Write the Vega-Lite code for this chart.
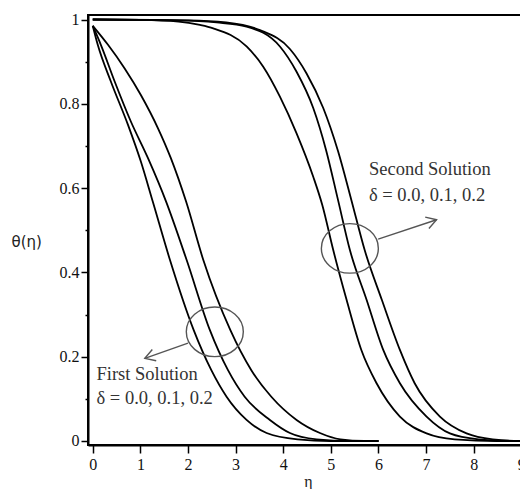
{
  "$schema": "https://vega.github.io/schema/vega-lite/v6.json",
  "autosize": "none",
  "padding": {"left": 88, "top": 15, "right": 0, "bottom": 44},
  "width": 440,
  "height": 430,
  "background": "white",
  "config": {
    "view": {"stroke": "black", "strokeWidth": 2},
    "axis": {
      "domainColor": "black",
      "domainWidth": 2,
      "tickColor": "black",
      "tickWidth": 1.5,
      "grid": false
    }
  },
  "datasets": {
    "curves": [
      {"curve": "F1", "eta": 0, "theta": 0.985},
      {"curve": "F1", "eta": 0.105, "theta": 0.94},
      {"curve": "F1", "eta": 0.38, "theta": 0.853},
      {"curve": "F1", "eta": 0.74, "theta": 0.75},
      {"curve": "F1", "eta": 1.01, "theta": 0.663},
      {"curve": "F1", "eta": 1.26, "theta": 0.568},
      {"curve": "F1", "eta": 1.62, "theta": 0.43},
      {"curve": "F1", "eta": 2.12, "theta": 0.263},
      {"curve": "F1", "eta": 2.49, "theta": 0.168},
      {"curve": "F1", "eta": 2.81, "theta": 0.105},
      {"curve": "F1", "eta": 3.23, "theta": 0.05},
      {"curve": "F1", "eta": 3.65, "theta": 0.019},
      {"curve": "F1", "eta": 4.3, "theta": 0.004},
      {"curve": "F1", "eta": 5.0, "theta": 0},
      {"curve": "F1", "eta": 6.0, "theta": 0},
      {"curve": "F2", "eta": 0, "theta": 0.985},
      {"curve": "F2", "eta": 0.17, "theta": 0.94},
      {"curve": "F2", "eta": 0.46, "theta": 0.853},
      {"curve": "F2", "eta": 0.8, "theta": 0.758},
      {"curve": "F2", "eta": 1.16, "theta": 0.671},
      {"curve": "F2", "eta": 1.54, "theta": 0.568},
      {"curve": "F2", "eta": 1.97, "theta": 0.43},
      {"curve": "F2", "eta": 2.46, "theta": 0.263},
      {"curve": "F2", "eta": 2.84, "theta": 0.168},
      {"curve": "F2", "eta": 3.19, "theta": 0.105},
      {"curve": "F2", "eta": 3.72, "theta": 0.05},
      {"curve": "F2", "eta": 4.14, "theta": 0.019},
      {"curve": "F2", "eta": 4.7, "theta": 0.004},
      {"curve": "F2", "eta": 5.4, "theta": 0},
      {"curve": "F2", "eta": 6.0, "theta": 0},
      {"curve": "F3", "eta": 0, "theta": 0.985},
      {"curve": "F3", "eta": 0.32, "theta": 0.94},
      {"curve": "F3", "eta": 0.67, "theta": 0.884},
      {"curve": "F3", "eta": 1.01, "theta": 0.821},
      {"curve": "F3", "eta": 1.37, "theta": 0.742},
      {"curve": "F3", "eta": 1.64, "theta": 0.671},
      {"curve": "F3", "eta": 1.96, "theta": 0.568},
      {"curve": "F3", "eta": 2.32, "theta": 0.43},
      {"curve": "F3", "eta": 2.89, "theta": 0.263},
      {"curve": "F3", "eta": 3.33, "theta": 0.168},
      {"curve": "F3", "eta": 3.75, "theta": 0.105},
      {"curve": "F3", "eta": 4.28, "theta": 0.05},
      {"curve": "F3", "eta": 4.77, "theta": 0.019},
      {"curve": "F3", "eta": 5.2, "theta": 0.004},
      {"curve": "F3", "eta": 5.7, "theta": 0},
      {"curve": "F3", "eta": 6.0, "theta": 0},
      {"curve": "S1", "eta": 0, "theta": 1},
      {"curve": "S1", "eta": 1.0, "theta": 0.999},
      {"curve": "S1", "eta": 1.8, "theta": 0.995},
      {"curve": "S1", "eta": 2.25, "theta": 0.987},
      {"curve": "S1", "eta": 2.53, "theta": 0.979},
      {"curve": "S1", "eta": 3.23, "theta": 0.936},
      {"curve": "S1", "eta": 3.58, "theta": 0.888},
      {"curve": "S1", "eta": 3.93, "theta": 0.817},
      {"curve": "S1", "eta": 4.28, "theta": 0.73},
      {"curve": "S1", "eta": 4.63, "theta": 0.627},
      {"curve": "S1", "eta": 4.82, "theta": 0.56},
      {"curve": "S1", "eta": 5.05, "theta": 0.453},
      {"curve": "S1", "eta": 5.33, "theta": 0.335},
      {"curve": "S1", "eta": 5.64, "theta": 0.216},
      {"curve": "S1", "eta": 5.96, "theta": 0.137},
      {"curve": "S1", "eta": 6.45, "theta": 0.058},
      {"curve": "S1", "eta": 7.01, "theta": 0.018},
      {"curve": "S1", "eta": 7.6, "theta": 0.004},
      {"curve": "S1", "eta": 8.5, "theta": 0},
      {"curve": "S1", "eta": 9.2, "theta": 0},
      {"curve": "S2", "eta": 0, "theta": 1},
      {"curve": "S2", "eta": 1.8, "theta": 0.998},
      {"curve": "S2", "eta": 2.6, "theta": 0.993},
      {"curve": "S2", "eta": 3.23, "theta": 0.983},
      {"curve": "S2", "eta": 3.93, "theta": 0.936},
      {"curve": "S2", "eta": 4.28, "theta": 0.876},
      {"curve": "S2", "eta": 4.63, "theta": 0.79},
      {"curve": "S2", "eta": 4.9, "theta": 0.69},
      {"curve": "S2", "eta": 5.15, "theta": 0.572},
      {"curve": "S2", "eta": 5.4, "theta": 0.453},
      {"curve": "S2", "eta": 5.75, "theta": 0.335},
      {"curve": "S2", "eta": 6.1, "theta": 0.216},
      {"curve": "S2", "eta": 6.45, "theta": 0.137},
      {"curve": "S2", "eta": 7.01, "theta": 0.058},
      {"curve": "S2", "eta": 7.5, "theta": 0.018},
      {"curve": "S2", "eta": 8.1, "theta": 0.004},
      {"curve": "S2", "eta": 8.8, "theta": 0},
      {"curve": "S2", "eta": 9.2, "theta": 0},
      {"curve": "S3", "eta": 0, "theta": 1},
      {"curve": "S3", "eta": 2.0, "theta": 0.998},
      {"curve": "S3", "eta": 2.8, "theta": 0.993},
      {"curve": "S3", "eta": 3.51, "theta": 0.975},
      {"curve": "S3", "eta": 4.14, "theta": 0.93},
      {"curve": "S3", "eta": 4.49, "theta": 0.872},
      {"curve": "S3", "eta": 4.84, "theta": 0.79},
      {"curve": "S3", "eta": 5.15, "theta": 0.688},
      {"curve": "S3", "eta": 5.43, "theta": 0.572},
      {"curve": "S3", "eta": 5.71, "theta": 0.453},
      {"curve": "S3", "eta": 6.07, "theta": 0.335},
      {"curve": "S3", "eta": 6.45, "theta": 0.216},
      {"curve": "S3", "eta": 6.76, "theta": 0.137},
      {"curve": "S3", "eta": 7.29, "theta": 0.058},
      {"curve": "S3", "eta": 7.85, "theta": 0.018},
      {"curve": "S3", "eta": 8.4, "theta": 0.004},
      {"curve": "S3", "eta": 9.0, "theta": 0},
      {"curve": "S3", "eta": 9.2, "theta": 0}
    ],
    "arrows": [
      {"which": "first", "eta": 2.0, "theta": 0.232, "eta2": 1.093, "theta2": 0.196},
      {"which": "second", "eta": 5.994, "theta": 0.479, "eta2": 7.22, "theta2": 0.525}
    ],
    "ellipses": [
      {"which": "first", "eta": 2.563, "theta": 0.259},
      {"which": "second", "eta": 5.399, "theta": 0.457}
    ],
    "labels": [
      {"eta": 0.078, "theta": 0.145, "text": "First Solution"},
      {"eta": 0.078, "theta": 0.088, "text": "δ = 0.0, 0.1, 0.2"},
      {"eta": 5.8, "theta": 0.631, "text": "Second Solution"},
      {"eta": 5.8, "theta": 0.57, "text": "δ = 0.0, 0.1, 0.2"}
    ]
  },
  "layer": [
    {
      "data": {"name": "curves"},
      "mark": {"type": "line", "interpolate": "monotone", "color": "black", "strokeWidth": 1.8, "clip": true},
      "encoding": {
        "x": {
          "field": "eta",
          "type": "quantitative",
          "title": "η",
          "scale": {"domain": [-0.1, 9.14], "nice": false, "zero": false},
          "axis": {
            "titleFont": "Liberation Serif",
            "titleFontSize": 16,
            "titleFontWeight": "normal",
            "titleColor": "#222",
            "titlePadding": 1,
            "values": [0, 0.5, 1, 1.5, 2, 2.5, 3, 3.5, 4, 4.5, 5, 5.5, 6, 6.5, 7, 7.5, 8, 8.5, 9],
            "tickSize": {"condition": {"test": "datum.value % 1 === 0", "value": 8}, "value": 4},
            "labelExpr": "datum.value % 1 === 0 ? datum.label : ''",
            "labelFont": "Liberation Serif",
            "labelFontSize": 16,
            "labelColor": "#111",
            "labelPadding": 3,
            "labelFlush": false,
            "labelOverlap": false
          }
        },
        "y": {
          "field": "theta",
          "type": "quantitative",
          "title": "θ(η)",
          "scale": {"domain": [-0.0095, 1.0107], "nice": false, "zero": false},
          "axis": {
            "titleFont": "DejaVu Sans",
            "titleFontSize": 15,
            "titleFontWeight": "normal",
            "titleColor": "#222",
            "titleAngle": 0,
            "titleAlign": "left",
            "titleBaseline": "middle",
            "titleX": -77,
            "titleY": 226,
            "values": [0, 0.1, 0.2, 0.3, 0.4, 0.5, 0.6, 0.7, 0.8, 0.9, 1],
            "tickSize": {"condition": {"test": "abs(datum.value * 5 - round(datum.value * 5)) < 0.001", "value": 7}, "value": 3},
            "labelExpr": "abs(datum.value * 5 - round(datum.value * 5)) < 0.001 ? format(datum.value, '~g') : ''",
            "labelFont": "Liberation Serif",
            "labelFontSize": 16,
            "labelColor": "#111",
            "labelPadding": 2,
            "labelFlush": false,
            "labelOverlap": false
          }
        },
        "detail": {"field": "curve", "type": "nominal"}
      }
    },
    {
      "data": {"name": "arrows"},
      "mark": {"type": "rule", "color": "#555", "strokeWidth": 1.4},
      "encoding": {
        "x": {"field": "eta", "type": "quantitative", "title": "η"},
        "y": {"field": "theta", "type": "quantitative", "title": "θ(η)"},
        "x2": {"field": "eta2"},
        "y2": {"field": "theta2"}
      }
    },
    {
      "data": {"name": "arrows"},
      "mark": {
        "type": "point",
        "shape": "M-1,-0.6L0,0L-1,0.6",
        "filled": false,
        "color": "#555",
        "strokeWidth": 1.4,
        "size": 400,
        "opacity": 1
      },
      "encoding": {
        "x": {"field": "eta2", "type": "quantitative", "title": "η"},
        "y": {"field": "theta2", "type": "quantitative", "title": "θ(η)"},
        "angle": {"condition": {"test": "datum.which === 'first'", "value": 161}, "value": 342}
      }
    },
    {
      "data": {"name": "ellipses"},
      "mark": {
        "type": "point",
        "shape": "M-1,0A1,0.87,0,1,0,1,0A1,0.87,0,1,0,-1,0Z",
        "filled": false,
        "color": "#555",
        "strokeWidth": 1.4,
        "size": 3249,
        "opacity": 1
      },
      "encoding": {
        "x": {"field": "eta", "type": "quantitative", "title": "η"},
        "y": {"field": "theta", "type": "quantitative", "title": "θ(η)"}
      }
    },
    {
      "data": {"name": "labels"},
      "mark": {
        "type": "text",
        "align": "left",
        "baseline": "alphabetic",
        "font": "Liberation Serif",
        "fontSize": 18.5,
        "color": "#333"
      },
      "encoding": {
        "x": {"field": "eta", "type": "quantitative", "title": "η"},
        "y": {"field": "theta", "type": "quantitative", "title": "θ(η)"},
        "text": {"field": "text", "type": "nominal"}
      }
    }
  ]
}
